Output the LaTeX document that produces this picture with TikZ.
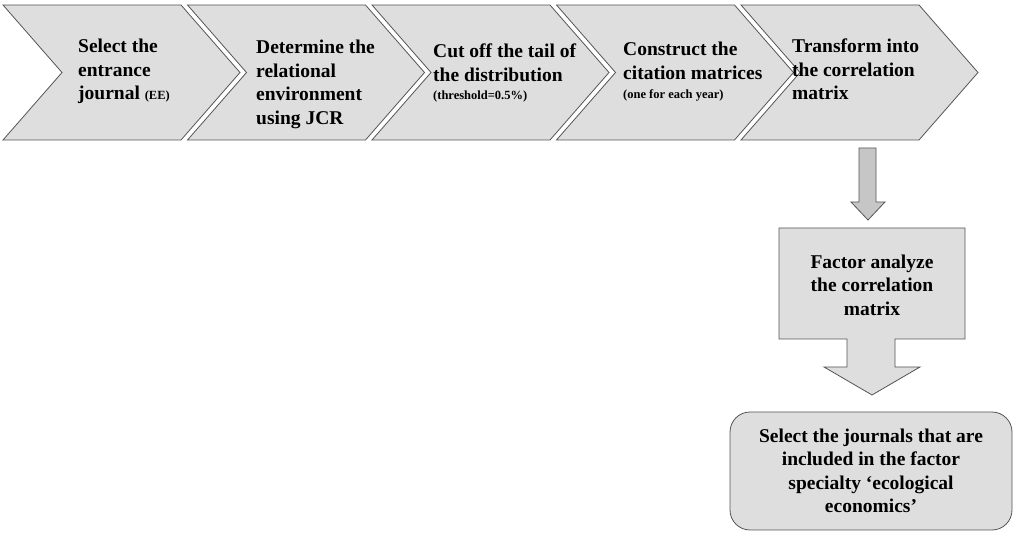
\documentclass[tikz,border=0pt]{standalone}
\usepackage{fontspec}
\setmainfont{Liberation Serif}
\definecolor{boxgray}{HTML}{DEDEDE}
\definecolor{arrowgray}{HTML}{C6C6C6}
\definecolor{edgegray}{HTML}{555555}
\newcommand{\smalltxt}{\fontsize{12.5}{15}\selectfont}
\begin{document}
\begin{tikzpicture}[x=1pt,y=-1pt,
  chev/.style={fill=boxgray,draw=edgegray,line width=0.8pt},
  steptext/.style={anchor=north west,inner sep=0pt,align=left,font=\bfseries\fontsize{19.5}{23.5}\selectfont},
  boxtext/.style={inner sep=0pt,align=center,font=\bfseries\fontsize{19.5}{23.5}\selectfont}]
  \useasboundingbox (0,0) rectangle (1013,534);
  \pgfmathsetmacro{\W}{178}
  \pgfmathsetmacro{\P}{59}
  \foreach \i in {0,...,4}{
      \pgfmathsetmacro{\L}{3+184.5*\i}
      \draw[chev] (\L,5) -- (\L+\W,5) -- (\L+\W+\P,72.5) -- (\L+\W,140) -- (\L,140) -- (\L+\P,72.5) -- cycle;}
  \node[steptext] (select) at (78,39) {Select the\\entrance\\journal {\smalltxt(EE)}};
  \node[steptext] (determine) at (256,40) {Determine the\\relational\\environment\\using JCR};
  \node[steptext] (cutoff) at (433,44) {Cut off the tail of\\the distribution\\[-5.5pt]{\smalltxt(threshold=0.5\%)}};
  \node[steptext] (construct) at (623,42) {Construct the\\citation matrices\\[-4pt]{\smalltxt(one for each year)}};
  \node[steptext] (transform) at (792,39) {Transform into\\the correlation\\matrix};
  % small block arrow under the last step
  \draw[fill=arrowgray,draw=edgegray,line width=0.8pt] (859,148) -- (876,148) -- (876,202) -- (885,202) -- (868,220) -- (851,202) -- (859,202) -- cycle;
  % factor box with its arrow
  \draw[chev] (779,228) -- (965,228) -- (965,339) -- (895,339) -- (895,367) -- (920,367) -- (872,395) -- (824,367) -- (847,367) -- (847,339) -- (779,339) -- cycle;
  \node[boxtext] (factor) at (872,285) {Factor analyze\\the correlation\\matrix};
  \node[chev,boxtext,rounded corners=20pt,minimum width=282pt,minimum height=118pt] (journals) at (871,471)
    {Select the journals that are\\included in the factor\\specialty ‘ecological\\economics’};
\end{tikzpicture}
\end{document}
